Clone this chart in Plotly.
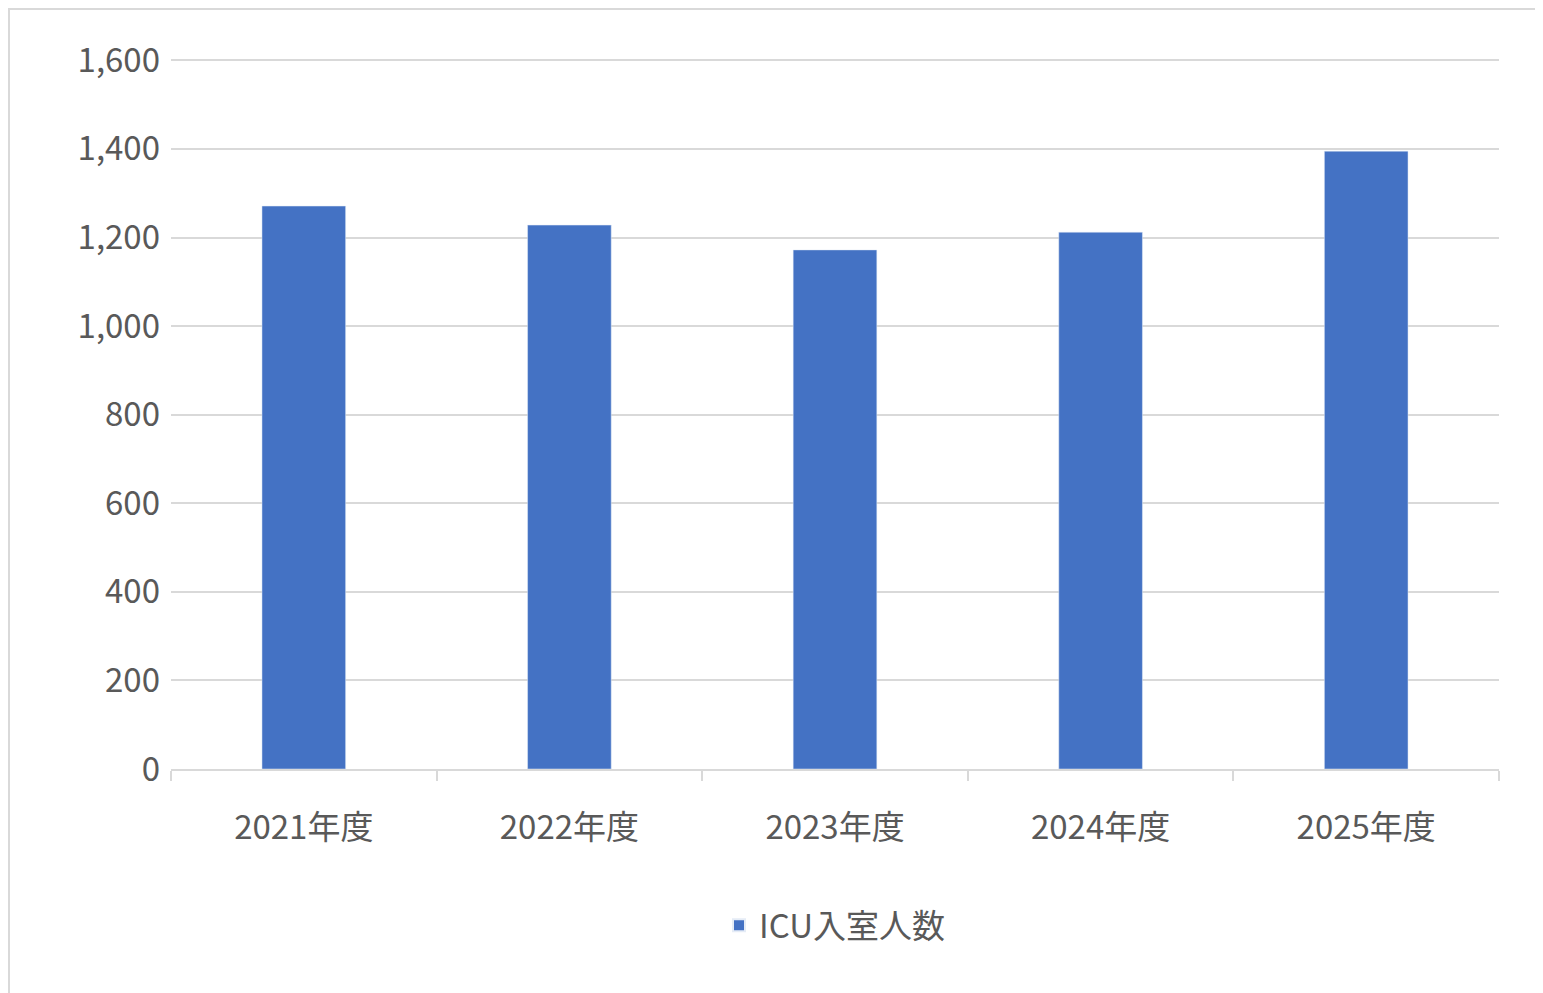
import plotly.graph_objects as go

categories = ["2021年度", "2022年度", "2023年度", "2024年度", "2025年度"]
values = [1271, 1228, 1172, 1212, 1395]
series_name = "ICU入室人数"
y_ticks = [0, 200, 400, 600, 800, 1000, 1200, 1400, 1600]
y_tick_labels = ["0", "200", "400", "600", "800", "1,000", "1,200", "1,400", "1,600"]

W, H = 1543, 993
L, R, T, B = 163, 52, 51, 232
pw, ph = W - L - R, H - T - B

fig = go.Figure(go.Bar(x=categories, y=values, name=series_name, marker_color="#4472C4"))
font = dict(family="Noto Sans CJK JP, sans-serif", size=33, color="#595959")
fig.update_layout(
    width=W, height=H, margin=dict(l=L, r=R, t=T, b=B, autoexpand=False),
    paper_bgcolor="white", plot_bgcolor="white", font=font,
    bargap=0.685, showlegend=True,
    legend=dict(orientation="h", x=0.5, xanchor="center", y=-0.22, yanchor="middle",
                font=dict(size=33, color="#595959"), itemsizing="constant"),
    xaxis=dict(showline=True, linecolor="#D9D9D9", linewidth=2, ticks="outside",
               tickson="boundaries", ticklen=10, tickcolor="#D9D9D9", tickwidth=2,
               ticklabelstandoff=28),
    yaxis=dict(range=[0, 1603], tickvals=y_ticks, ticktext=y_tick_labels,
               gridcolor="#D9D9D9", gridwidth=2, zeroline=False, ticks="", ticklabelstandoff=10),
    shapes=[dict(type="rect", xref="paper", yref="paper",
                 x0=-(L - 1) / pw, x1=1 + (R - 1) / pw, y0=-(B - 1) / ph, y1=1 + (T - 1) / ph,
                 line=dict(color="#D9D9D9", width=2))],
)
fig.write_html("out.html")
